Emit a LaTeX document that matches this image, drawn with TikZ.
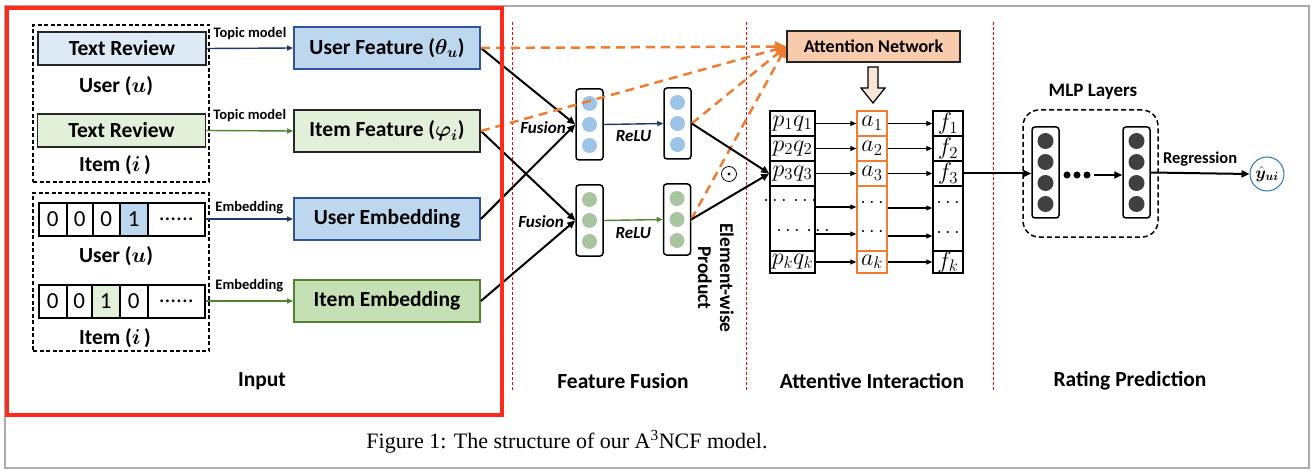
\RequirePackage{fix-cm}
\documentclass[tikz,border=0pt]{standalone}
\usepackage{fontspec}
\setmainfont{Carlito}
\newfontfamily\capfont{Liberation Serif}
\usepackage{bm}
\usetikzlibrary{arrows.meta,calc}
\definecolor{lblue}{HTML}{DEEBF7}
\definecolor{mblue}{HTML}{BDD7EE}
\definecolor{dblue}{HTML}{2F5597}
\definecolor{navy}{HTML}{203864}
\definecolor{lgreen}{HTML}{E2F0D9}
\definecolor{mgreen}{HTML}{C5E0B4}
\definecolor{dgreen}{HTML}{548235}
\definecolor{orng}{HTML}{ED7D31}
\definecolor{peach}{HTML}{F8CBAD}
\definecolor{lpeach}{HTML}{FBE5D6}
\definecolor{cblue}{HTML}{9DC3E6}
\definecolor{cgreen}{HTML}{A9C4A0}
\definecolor{dgray}{HTML}{404040}
\definecolor{redline}{HTML}{FF2A1A}
\definecolor{framegray}{HTML}{ABABAB}
\definecolor{yblue}{HTML}{2E75B6}
\tikzset{
  lab/.style={inner sep=0, font=\fontsize{21.5}{24}\selectfont\bfseries},
  seclab/.style={inner sep=0, font=\fontsize{21.5}{24}\selectfont\bfseries},
  small/.style={inner sep=0, font=\fontsize{14.5}{16}\selectfont\bfseries},
  itl/.style={inner sep=0, font=\fontsize{17}{19}\selectfont\bfseries\itshape},
  dashbox/.style={draw, line width=1.5, dash pattern=on 4 off 2.5, inner sep=0},
  trbox/.style={draw=black!85, line width=1.8, minimum width=168, minimum height=33, inner sep=0, font=\fontsize{21.5}{24}\selectfont\bfseries},
  fbox/.style={line width=1.8, minimum width=186, minimum height=42, inner sep=0, font=\fontsize{21.5}{24}\selectfont\bfseries},
  cell/.style={draw, line width=1.5, minimum height=33, inner sep=0, anchor=west, font=\fontsize{23}{25}\selectfont},
  vbox/.style={draw, fill=white, line width=1.5, rounded corners=3, minimum width=27, minimum height=71, inner sep=0},
  mbox/.style={draw, fill=white, line width=1.5, rounded corners=3, minimum width=27, minimum height=91, inner sep=0},
  tcell/.style={draw, line width=1.5, inner sep=0},
  acell/.style={draw=orng, line width=1.5, inner sep=0, minimum width=30},
  mtxt/.style={inner sep=0, font=\fontsize{24}{26}\selectfont},
  dots/.style={inner sep=0, font=\fontsize{20}{22}\selectfont},
  sep/.style={draw=red, line width=1, dash pattern=on 3 off 2},
  thinarr/.style={line width=1.4, -{Triangle[length=6,width=5]}},
  blk/.style={draw=black, line width=2, -{Triangle[length=8,width=7]}},
  tarr/.style={draw=black, line width=1.2, -{Triangle[length=6,width=5]}},
  odash/.style={draw=orng, line width=2.5, dash pattern=on 9 off 6, -{Triangle[length=11,width=10]}},
}
\begin{document}
\begin{tikzpicture}[x=1pt,y=-1pt]
\useasboundingbox (0,0) rectangle (1314,473);
\fill[white] (0,0) rectangle (1314,473);
\draw[framegray, line width=2.5] (5,6) rectangle (1309,468);

% separators
\draw[sep] (512,22) -- (512,390);
\draw[sep] (746,22) -- (746,390);
\draw[sep] (993,22) -- (993,390);

% ---------- Input ----------
\node[dashbox, minimum width=176, minimum height=157] (g1) at (121,103.5) {};
\node[dashbox, minimum width=176, minimum height=158] (g2) at (121,272) {};
\node[trbox, fill=lblue] (tr1) at (122,48.5) {Text Review};
\node[lab] (ul1) at (116,86) {User ($\bm{u}$)};
\node[trbox, fill=lgreen] (tr2) at (121.5,130.5) {Text Review};
\node[lab] (il1) at (115,165) {Item ($\bm{i}$\,)};

\node[cell, minimum width=28] (u0) at (38,219.5) {0};
\node[cell, minimum width=26] (u1) at (66,219.5) {0};
\node[cell, minimum width=27] (u2) at (92,219.5) {0};
\node[cell, minimum width=28, fill=mblue] (u3) at (119,219.5) {1};
\node[cell, minimum width=57] (u4) at (147,219.5) {......};
\node[lab] (ul2) at (116,256) {User ($\bm{u}$)};

\node[cell, minimum width=28] (i0) at (38,301.5) {0};
\node[cell, minimum width=25] (i1) at (66,301.5) {0};
\node[cell, minimum width=28, fill=lgreen] (i2) at (91,301.5) {1};
\node[cell, minimum width=28] (i3) at (119,301.5) {0};
\node[cell, minimum width=57] (i4) at (147,301.5) {......};
\node[lab] (il2) at (115,338) {Item ($\bm{i}$\,)};

\node[fbox, fill=mblue, draw=dblue] (uf) at (387,48) {User Feature ($\bm{\theta_u}$)};
\node[fbox, fill=lgreen, draw=black!85] (if) at (387,131) {Item Feature ($\bm{\varphi_i}$)};
\node[fbox, fill=mblue, draw=dblue] (ue) at (387,219) {User Embedding};
\node[fbox, fill=mgreen, draw=dgreen] (ie) at (387,301) {Item Embedding};

\draw[thinarr, navy] (tr1.east) -- (uf.west) node[midway, above=8pt, small, text=black] {Topic model};
\draw[thinarr, dgreen] (tr2.east) -- (if.west) node[midway, above=8pt, small, text=black] {Topic model};
\draw[thinarr, navy] (u4.east |- ue.west) -- (ue.west) node[midway, above=4pt, small, text=black] {Embedding};
\draw[thinarr, dgreen] (i4.east |- ie.west) -- (ie.west) node[midway, above=8pt, small, text=black] {Embedding};

\node[seclab] (sin) at (262,381) {Input};

% ---------- Feature fusion ----------
\node[vbox] (fb1) at (589.5,124.5) {};
\node[vbox] (rb1) at (677.5,123.5) {};
\node[vbox] (fb2) at (589.5,220.5) {};
\node[vbox] (rb2) at (677,219.5) {};
\foreach \b in {fb1,rb1}{
  \foreach \d in {-21,0,21}{\fill[cblue] ($(\b.center)+(0,\d)$) circle (7.5);}}
\foreach \b in {fb2,rb2}{
  \foreach \d in {-21,0,21}{\fill[cgreen] ($(\b.center)+(0,\d)$) circle (7.5);}}

\draw[blk] (uf.east) -- (fb1.west);
\draw[blk] (ue.east) -- (fb1.west);
\draw[blk] (if.east) -- (fb2.west);
\draw[blk] (ie.east) -- (fb2.west);
\node[itl] (fus1) at (543,128) {Fusion};
\node[itl] (fus2) at (541,222) {Fusion};

\draw[thinarr, navy] (fb1.east) -- (rb1.west) node[midway, below=6pt, itl, text=black] {ReLU};
\draw[thinarr, dgreen] (fb2.east) -- (rb2.west) node[midway, below=7pt, itl, text=black] {ReLU};

\node[circle, draw, line width=0.8, minimum size=15, inner sep=0] (odot) at (729,174) {};
\fill (odot.center) circle (1.6);
\node[rotate=-90, align=center, inner sep=0, font=\fontsize{19.5}{22}\selectfont\bfseries] (ewp) at (716,278) {Element-wise\\Product};

\node[seclab] (sff) at (623,381) {Feature Fusion};

% ---------- Attentive interaction ----------
\node[draw=black!85, fill=peach, line width=1.5, minimum width=173, minimum height=31, inner sep=0, font=\fontsize{18}{20}\selectfont\bfseries] (att) at (873.5,46.5) {Attention Network};
\draw[fill=lpeach, line width=1.2, line join=miter] (868,67) -- (878,67) -- (878,88) -- (885,88) -- (873,103) -- (861,88) -- (868,88) -- cycle;

\foreach \n/\y/\h in {1/123.5/25, 2/148.5/25, 3/173.5/25, b/218.5/65, k/262/22}{
  \node[tcell, minimum width=45, minimum height=\h] (p\n) at (792.5,\y) {};
  \node[acell, minimum height=\h] (a\n) at (872,\y) {};
  \node[tcell, minimum width=30, minimum height=\h] (f\n) at (948,\y) {};
}
\foreach \n in {1,2,3,k}{
  \node[mtxt] at (p\n) {$p_{\n}q_{\n}$};
  \node[mtxt] at (a\n) {$a_{\n}$};
  \node[mtxt] at (f\n) {$f_{\n}$};
}
\node[dots] (pd1) at (790,201) {$\cdots\,\cdots$};
\node[dots] (pd2) at (803,231) {$\cdots\,\cdots$};
\node[dots] (ad1) at (872,203) {$\cdots$};
\node[dots] (ad2) at (872,232) {$\cdots$};
\node[dots] (fd1) at (948,203) {$\cdots$};
\node[dots] (fd2) at (948,233) {$\cdots$};

\foreach \n in {1,2,3,k}{
  \draw[tarr] (p\n.east) -- (a\n.west);
  \draw[tarr] (a\n.east) -- (f\n.west);
}
\draw[tarr] ([yshift=11.5]pb.east) -- ([yshift=11.5]ab.west);
\draw[tarr] ([yshift=-15.5]pb.east) -- ([yshift=-15.5]ab.west);
\draw[tarr] ([yshift=10.5]ab.east) -- ([yshift=10.5]fb.west);
\draw[tarr] ([yshift=-17.5]ab.east) -- ([yshift=-17.5]fb.west);

\draw[odash] (uf.east) -- (att.west);
\draw[odash] (if.east) -- (att.west);
\draw[odash] (rb1.east) -- (att.west);
\draw[odash] (rb2.east) -- (att.west);

\draw[blk] (rb1.east) -- (p3.west);
\draw[blk] (rb2.east) -- (p3.west);

\node[seclab] (sai) at (872,381) {Attentive Interaction};

% ---------- Rating prediction ----------
\node[draw, line width=1.5, dash pattern=on 5 off 3, rounded corners=16, minimum width=135, minimum height=127, inner sep=0] (mlp) at (1090.5,173.5) {};
\node[inner sep=0, font=\fontsize{19}{21}\selectfont\bfseries] (mlpl) at (1093,92) {MLP Layers};
\node[mbox] (l1) at (1045.5,172.5) {};
\node[mbox] (l2) at (1136.5,172.5) {};
\foreach \b in {l1,l2}{
  \foreach \d in {-31.5,-10.5,10.5,31.5}{\fill[dgray] ($(\b.center)+(0,\d)$) circle (8);}}
\foreach \x in {1067,1077,1087}{\fill[black] (\x,175) circle (3.5);}
\coordinate (mdend) at (1094,175);
\node[circle, draw=yblue, line width=1, minimum size=34, inner sep=0, font=\fontsize{17}{19}\selectfont] (yhat) at (1267,174) {$\bm{\hat{y}_{ui}}$};

\draw[blk] (f3.east) -- (f3.east -| l1.west);
\draw[blk] (mdend) -- (mdend -| l2.west);
\draw[blk] (l2.east) -- (yhat.west) node[midway, above=6pt, inner sep=0, font=\fontsize{16.5}{18}\selectfont\bfseries] {Regression};

\node[seclab] (srp) at (1130,381) {Rating Prediction};

% red highlight
\draw[redline, line width=4] (6.5,8.5) rectangle (501.5,415);

% caption
\node[inner sep=0, font=\capfont\fontsize{22}{24}\selectfont] (cap) at (567,442) {Figure 1: The structure of our A\textsuperscript{3}NCF model.};
\end{tikzpicture}
\end{document}
